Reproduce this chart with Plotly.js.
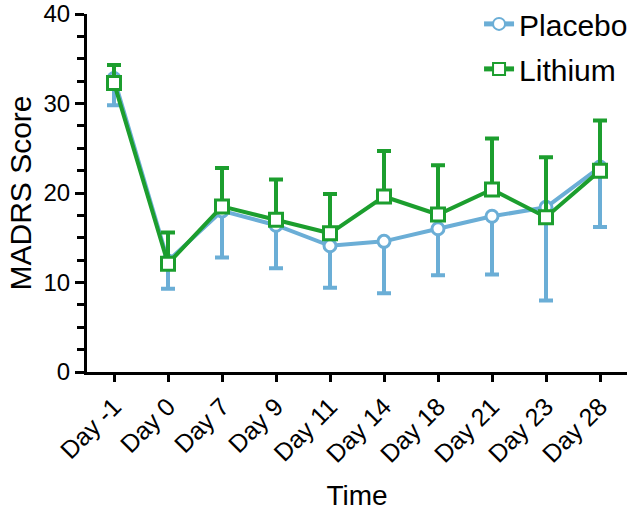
<!DOCTYPE html>
<html>
<head>
<meta charset="utf-8">
<script src="https://cdn.plot.ly/plotly-3.0.1.min.js"></script>
<style>html,body{margin:0;padding:0;background:#fff;}#chart{width:630px;height:511px;}</style>
</head>
<body>
<div id="chart"></div>
<script>
const days = ["Day -1","Day 0","Day 7","Day 9","Day 11","Day 14","Day 18","Day 21","Day 23","Day 28"];
const placebo = [32.8, 12.4, 18.0, 16.4, 14.1, 14.6, 16.0, 17.4, 18.4, 22.9];
const placeboLow = [29.8, 9.3, 12.8, 11.6, 9.4, 8.8, 10.8, 10.9, 8.0, 16.2];
const lithium = [32.3, 12.1, 18.5, 17.0, 15.5, 19.6, 17.6, 20.4, 17.3, 22.5];
const lithiumHigh = [34.3, 15.6, 22.8, 21.5, 19.9, 24.7, 23.1, 26.1, 24.0, 28.1];

const placeboMinus = placebo.map((v, i) => v - placeboLow[i]);
const lithiumPlus = lithium.map((v, i) => lithiumHigh[i] - v);

const cPlacebo = "#6baed6";
const cLithium = "#1c9e2e";

const traces = [
  {
    x: days, y: placebo, name: "Placebo", legendgroup: "p", type: "scatter", mode: "lines+markers",
    line: {color: cPlacebo, width: 4},
    marker: {symbol: "circle", size: 12, color: "#ffffff", line: {color: cPlacebo, width: 3}},
    error_y: {type: "data", symmetric: false, array: placebo.map(() => 0), arrayminus: placeboMinus,
              color: cPlacebo, thickness: 4, width: 7}
  },
  {
    x: days, y: lithium, name: "Lithium", legendgroup: "l", type: "scatter", mode: "lines+markers",
    line: {color: cLithium, width: 4},
    marker: {symbol: "square", size: 13, color: "#ffffff", line: {color: cLithium, width: 3}},
    error_y: {type: "data", symmetric: false, array: lithiumPlus, arrayminus: lithium.map(() => 0),
              color: cLithium, thickness: 4, width: 7}
  }
];

const font = "Liberation Sans, Arial, sans-serif";
const layout = {
  width: 630, height: 511,
  margin: {l: 87, r: 3, t: 14, b: 139, autoexpand: false},
  paper_bgcolor: "#ffffff", plot_bgcolor: "#ffffff",
  font: {family: font, color: "#000000"},
  showlegend: true,
  legend: {x: 0.726, y: 1.045, xanchor: "left", yanchor: "top", font: {size: 30, family: font},
           bgcolor: "rgba(0,0,0,0)", traceorder: "grouped", tracegroupgap: 3, itemsizing: "constant"},
  xaxis: {
    type: "category", range: [-0.5, 9.5], showgrid: false, zeroline: false,
    showline: true, linecolor: "#000000", linewidth: 3,
    ticks: "outside", ticklen: 7, tickwidth: 3, tickcolor: "#000000",
    tickangle: -45, tickfont: {size: 25, family: font}, ticklabeloverflow: "allow",
    title: {text: "Time", font: {size: 28, family: font}, standoff: 20}
  },
  yaxis: {
    range: [0, 40], dtick: 10, showgrid: false, zeroline: false,
    showline: true, linecolor: "#000000", linewidth: 3,
    ticks: "outside", ticklen: 9, tickwidth: 3, tickcolor: "#000000",
    tickfont: {size: 24, family: font}, ticklabeloverflow: "allow",
    minor: {dtick: 2.5, ticks: "outside", ticklen: 7, tickwidth: 3, tickcolor: "#000000", showgrid: false},
    title: {text: "MADRS Score", font: {size: 30, family: font}, standoff: 3}
  }
};

Plotly.newPlot("chart", traces, layout, {displayModeBar: false, staticPlot: true});
</script>
</body>
</html>
